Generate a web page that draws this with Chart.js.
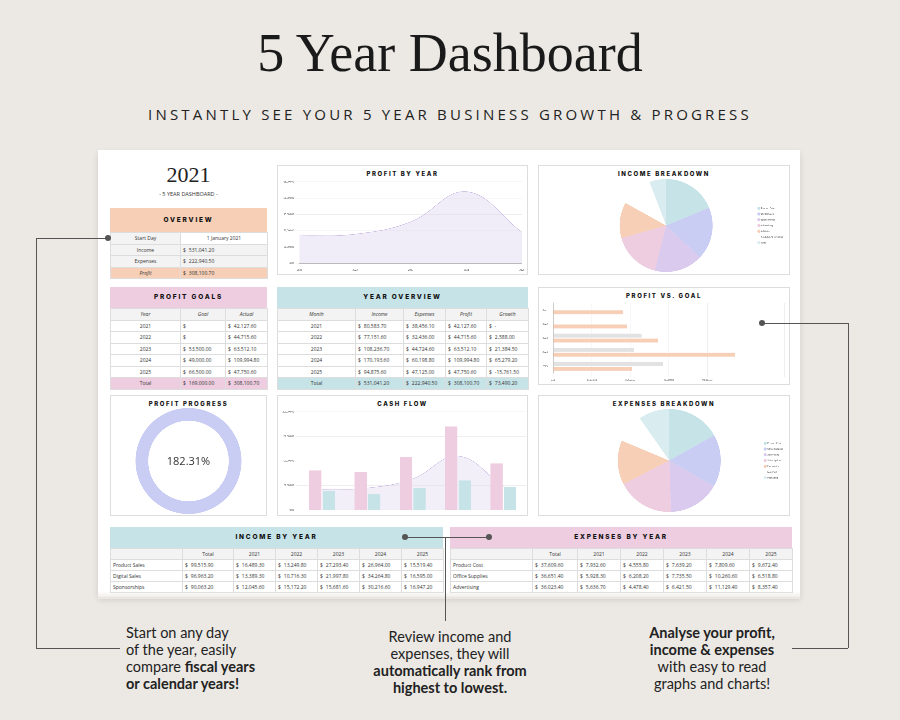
<!DOCTYPE html>
<html><head><meta charset="utf-8">
<script src="https://cdn.jsdelivr.net/npm/chart.js@4"></script>
<style>
body{margin:0;width:900px;height:720px;background:#ece9e4;position:relative;overflow:hidden;font-family:"Open Sans",sans-serif}
.abs{position:absolute}
#title{left:0;width:900px;top:22px;text-align:center;font-family:"Liberation Serif",serif;font-size:54px;color:#1a1a1a}
#sub{left:0;width:900px;top:104px;text-align:center;font-size:15px;letter-spacing:3.2px;color:#222}
#sheet{left:98px;top:150px;width:702px;height:447px;background:#fff;box-shadow:0 3px 6px rgba(0,0,0,.12)}
.panel{position:absolute;border:1px solid #ddd;background:#fff;box-sizing:border-box}
.ptitle{position:absolute;left:0;right:0;top:4px;text-align:center;font-family:Inter,sans-serif;font-weight:800;font-size:6px;letter-spacing:1.6px;color:#111}
canvas{position:absolute}
table{border-collapse:collapse;position:absolute;font-size:5px;color:#333;table-layout:fixed}
td{border:0.5px solid #ddd;padding:0 2px;height:10px;white-space:nowrap;overflow:hidden}
td.c{text-align:center}
.hd{position:absolute;text-align:center;font-family:Inter,sans-serif;font-weight:800;font-size:6.5px;letter-spacing:1.8px;color:#111}
.m{display:flex;justify-content:space-between}
.note{position:absolute;font-size:14.5px;line-height:17px;color:#222;font-family:Lato,sans-serif}
.line{position:absolute;background:#555}
.dot{position:absolute;width:6px;height:6px;border-radius:3px;background:#555}
</style></head><body>
<div id="title" class="abs">5 Year Dashboard</div>
<div id="sub" class="abs">INSTANTLY SEE YOUR 5 YEAR BUSINESS GROWTH &amp; PROGRESS</div>
<div id="sheet" class="abs"></div>
<div id="root" class="abs" style="left:0;top:0;width:900px;height:720px"></div>
<script>
const years=['2021','2022','2023','2024','2025'];
const income=[80583.70,77151.60,108236.70,170193.60,94875.60];
const expenses=[38456.10,32436.00,44724.60,60198.80,47125.00];
const profit=[42127.60,44715.60,63512.10,109994.80,47750.60];
const growth=[null,2588.00,21384.50,65279.20,-15761.50];
const goals=[0,0,53500,49000,66500];
const incomeCats=['Product Sales','Digital Sales','Sponsorships','Advertising','Affiliates','Youtube Ad Revenue','Gifts'];
const incomeVals=[99515.90,96963.20,90063.20,88500,66000,59000,31000];
const expenseCats=['Product Cost','Office Supplies','Advertising','Subscriptions','Electronics','Materials','Packaging'];
const expenseVals=[37609.60,36651.40,36023.40,40000,31000,20000,21656];
const progressPct=182.31;
const incRowNames=['Product Sales','Digital Sales','Sponsorships'];
const incRows=[[99515.90,16489.30,13249.80,27293.40,26964.00,15519.40],[96963.20,13389.30,10716.30,21997.80,34264.80,16595.00],[90063.20,12045.60,15172.20,15681.60,30216.60,16947.20]];
const expRowNames=['Product Cost','Office Supplies','Advertising'];
const expRows=[[37609.60,7932.60,4555.80,7639.20,7809.60,9672.40],[36651.40,5928.30,6208.20,7735.50,10260.60,6518.80],[36023.40,5636.70,4478.40,6421.50,11129.40,8357.40]];

const C={teal:'#c6e3e8',peri:'#c9cdf3',lav:'#dacbee',pink:'#efcde0',peach:'#f6cfb6',white:'#ffffff',lblue:'#d9ecf0',grey:'#e2e2e2'};
const root=document.getElementById('root');
const money=v=>v==null?'-':(v<0?'-':'')+Math.abs(v).toLocaleString('en-US',{minimumFractionDigits:2,maximumFractionDigits:2});
const mc=v=>`<div class="m"><span>$</span><span style="flex:1;padding-left:3px">${money(v)}</span></div>`;
function el(tag,cls,style,html){const e=document.createElement(tag);if(cls)e.className=cls;e.style.cssText=style;if(html!=null)e.innerHTML=html;root.appendChild(e);return e;}
function panel(x,y,w,h,t){el('div','panel',`left:${x}px;top:${y}px;width:${w}px;height:${h}px`);if(t)el('div','ptitle',`left:${x}px;width:${w}px;top:${y+5}px`,t);}
function canvas(x,y,w,h){const c=el('canvas','',`left:${x}px;top:${y}px;width:${w}px;height:${h}px`);c.width=w*2;c.height=h*2;return c.getContext('2d');}
Chart.defaults.font.family='Open Sans';Chart.defaults.font.size=4.5;Chart.defaults.color='#333';
Chart.defaults.animation=false;

el('div','',`position:absolute;left:110px;width:157px;top:162px;text-align:center;font-family:'Liberation Serif',serif;font-size:22px;color:#222`,'2021');
el('div','',`position:absolute;left:110px;width:157px;top:190px;text-align:center;font-size:5.5px;color:#333`,'- 5 YEAR DASHBOARD -');
el('div','hd',`left:110px;top:208px;width:157px;height:24px;line-height:24px;background:${C.peach}`,'OVERVIEW');
function table(x,y,widths,rows,rowStyles,h){
  let s=`<colgroup>${widths.map(w=>`<col style="width:${w}px">`).join('')}</colgroup>`;
  rows.forEach((r,i)=>{s+=`<tr style="${rowStyles[i]||''}">`+r.map((c,j)=>`<td class="${c.cl||''}" style="height:${h}px;${c.st||''}">${c.t}</td>`).join('')+'</tr>'});
  el('table','',`left:${x}px;top:${y}px;width:${widths.reduce((a,b)=>a+b)}px`,s);
}
const ov=[['Start Day','<div style="text-align:center">1 January 2021</div>'],['Income',mc(income.reduce((a,b)=>a+b))],['Expenses',mc(expenses.reduce((a,b)=>a+b))],['Profit',mc(profit.reduce((a,b)=>a+b))]];
table(110,232,[70,87],ov.map((r,i)=>[{t:r[0],cl:'c',st:i==3?'font-style:italic':''},{t:r[1],st:i==0?'background:#fff':''}]),['background:#f3f3f3','background:#f3f3f3','background:#f3f3f3',`background:${C.peach}`],10.5);

el('div','hd',`left:110px;top:287px;width:157px;height:21px;line-height:21px;background:${C.pink}`,'PROFIT GOALS');
const pg=[[{t:'<i>Year</i>',cl:'c'},{t:'<i>Goal</i>',cl:'c'},{t:'<i>Actual</i>',cl:'c'}]];
years.forEach((y,i)=>pg.push([{t:y,cl:'c'},{t:goals[i]?mc(goals[i]):'$'},{t:mc(profit[i])}]));
pg.push([{t:'Total',cl:'c'},{t:mc(goals.reduce((a,b)=>a+b))},{t:mc(profit.reduce((a,b)=>a+b))}]);
table(110,308,[70,45,42],pg,['background:#f3f3f3','','','','','',`background:${C.pink}`],10.5);

el('div','hd',`left:277px;top:287px;width:251px;height:21px;line-height:21px;background:${C.teal}`,'YEAR OVERVIEW');
const yo=[['Month','Income','Expenses','Profit','Growth'].map(t=>({t:`<i>${t}</i>`,cl:'c'}))];
years.forEach((y,i)=>yo.push([{t:y,cl:'c'},{t:mc(income[i])},{t:mc(expenses[i])},{t:mc(profit[i])},{t:i==0?'$&nbsp; -':mc(growth[i])}]));
yo.push([{t:'Total',cl:'c'},{t:mc(income.reduce((a,b)=>a+b))},{t:mc(expenses.reduce((a,b)=>a+b))},{t:mc(profit.reduce((a,b)=>a+b))},{t:mc(growth.reduce((a,b)=>a+(b||0),0))}]);
table(277,308,[78,48,42,41,42],yo,['background:#f3f3f3','','','','','',`background:${C.teal}`],10.5);

function byYear(x,w0,wT,wy,title,bg,names,rows){
  const W=w0+wT+wy*5;
  el('div','hd',`left:${x}px;top:527px;width:${W}px;height:21px;line-height:21px;background:${bg}`,title);
  const r=[[{t:''},{t:'Total',cl:'c'}].concat(years.map(y=>({t:y,cl:'c'})))];
  names.forEach((n,i)=>r.push([{t:n}].concat(rows[i].map(v=>({t:mc(v)})))));
  table(x,548,[w0,wT,wy,wy,wy,wy,wy],r,['background:#f3f3f3'],10);
}
byYear(110,72,51,42,'INCOME BY YEAR',C.teal,incRowNames,incRows);
byYear(450,82,45,43,'EXPENSES BY YEAR',C.pink,expRowNames,expRows);
el('div','',`position:absolute;left:98px;top:591px;width:702px;height:8px;background:linear-gradient(#fff0,#ece9e4)`);

panel(277,165,251,110,'PROFIT BY YEAR');
new Chart(canvas(281,179,245,94),{type:'line',data:{labels:years,datasets:[{data:profit,borderColor:'#c6b6e0',borderWidth:0.9,backgroundColor:'rgba(225,215,240,0.45)',fill:true,tension:0.4,pointRadius:0}]},
options:{responsive:false,devicePixelRatio:2,plugins:{legend:{display:false}},scales:{y:{min:0,max:125000,ticks:{stepSize:25000,callback:v=>money(v)},grid:{color:'#eee'},border:{display:false}},x:{grid:{display:false},border:{color:'#bbb',width:2}}}}});

function pie(x,y,labels,vals,title){
  panel(x,y,252,y==165?110:121,title);
  const cols=[C.teal,C.peri,C.lav,C.pink,C.peach,C.white,C.lblue];
  new Chart(canvas(x+40,y+13,210,y==165?95:105),{type:'pie',data:{labels,datasets:[{data:vals,backgroundColor:cols,borderWidth:0}]},
  options:{responsive:false,devicePixelRatio:2,layout:{padding:{top:2,bottom:2}},plugins:{legend:{position:'right',labels:{usePointStyle:true,pointStyle:'circle',boxWidth:5,boxHeight:5,padding:7,font:{size:4.5}}}}}});
}
pie(538,165,incomeCats,incomeVals,'INCOME BREAKDOWN');
pie(538,395,expenseCats,expenseVals,'EXPENSES BREAKDOWN');

panel(538,287,252,98,'PROFIT VS. GOAL');
new Chart(canvas(541,300,245,83),{type:'bar',data:{labels:years,datasets:[{data:goals,backgroundColor:C.grey,barPercentage:0.8,categoryPercentage:0.7},{data:profit,backgroundColor:C.peach,barPercentage:0.8,categoryPercentage:0.7}]},
options:{indexAxis:'y',responsive:false,devicePixelRatio:2,plugins:{legend:{display:false}},scales:{x:{min:0,max:140000,ticks:{stepSize:25000,callback:v=>v>100000?'':money(v)},grid:{color:'#eee'},border:{display:false}},y:{grid:{display:false},border:{color:'#999',width:1}}}}});

panel(110,395,157,121,'PROFIT PROGRESS');
new Chart(canvas(125,408,127,106),{type:'doughnut',data:{labels:['Progress'],datasets:[{data:[progressPct],backgroundColor:C.peri,borderWidth:0}]},
options:{responsive:false,devicePixelRatio:2,cutout:'76%',plugins:{legend:{display:false},tooltip:{enabled:false}}}});
el('div','',`position:absolute;left:125px;width:127px;top:453px;text-align:center;font-size:11px;color:#333`,progressPct.toFixed(2)+'%');

panel(277,395,251,121,'CASH FLOW');
new Chart(canvas(281,409,245,105),{data:{labels:years,datasets:[
{type:'line',data:profit,borderColor:'#c6b6e0',borderWidth:0.9,backgroundColor:'rgba(225,215,240,0.4)',fill:true,tension:0.4,pointRadius:0,order:3},
{type:'bar',data:income,backgroundColor:C.pink,order:1,barPercentage:0.9,categoryPercentage:0.6},
{type:'bar',data:expenses,backgroundColor:C.teal,order:2,barPercentage:0.9,categoryPercentage:0.6}]},
options:{responsive:false,devicePixelRatio:2,plugins:{legend:{display:false}},scales:{y:{min:0,max:200000,ticks:{stepSize:50000,callback:v=>money(v)},grid:{color:'#eee'},border:{display:false}},x:{ticks:{display:false},grid:{display:false},border:{color:'#888'}}}}});

function L(x,y,w,h){el('div','line',`left:${x}px;top:${y}px;width:${w}px;height:${h}px`);}
function D(x,y){el('div','dot',`left:${x-3}px;top:${y-3}px`);}
L(36,238,72,1);L(36,238,1,411);L(36,648,84,1);D(108,238);
L(405,537,84,1);L(445,537,1,84);D(405,537);D(489,537);
L(762,323,86,1);L(848,323,1,325);L(792,648,56,1);D(762,323);
el('div','note','left:126px;top:624px;width:200px','Start on any day<br>of the year, easily<br>compare <b>fiscal years</b><br><b>or calendar years!</b>');
el('div','note','left:350px;top:628px;width:200px;text-align:center','Review income and<br>expenses, they will<br><b>automatically rank from</b><br><b>highest to lowest.</b>');
el('div','note','left:612px;top:624px;width:200px;text-align:center','<b>Analyse your profit,</b><br><b>income &amp; expenses</b><br>with easy to read<br>graphs and charts!');
</script></body></html>
